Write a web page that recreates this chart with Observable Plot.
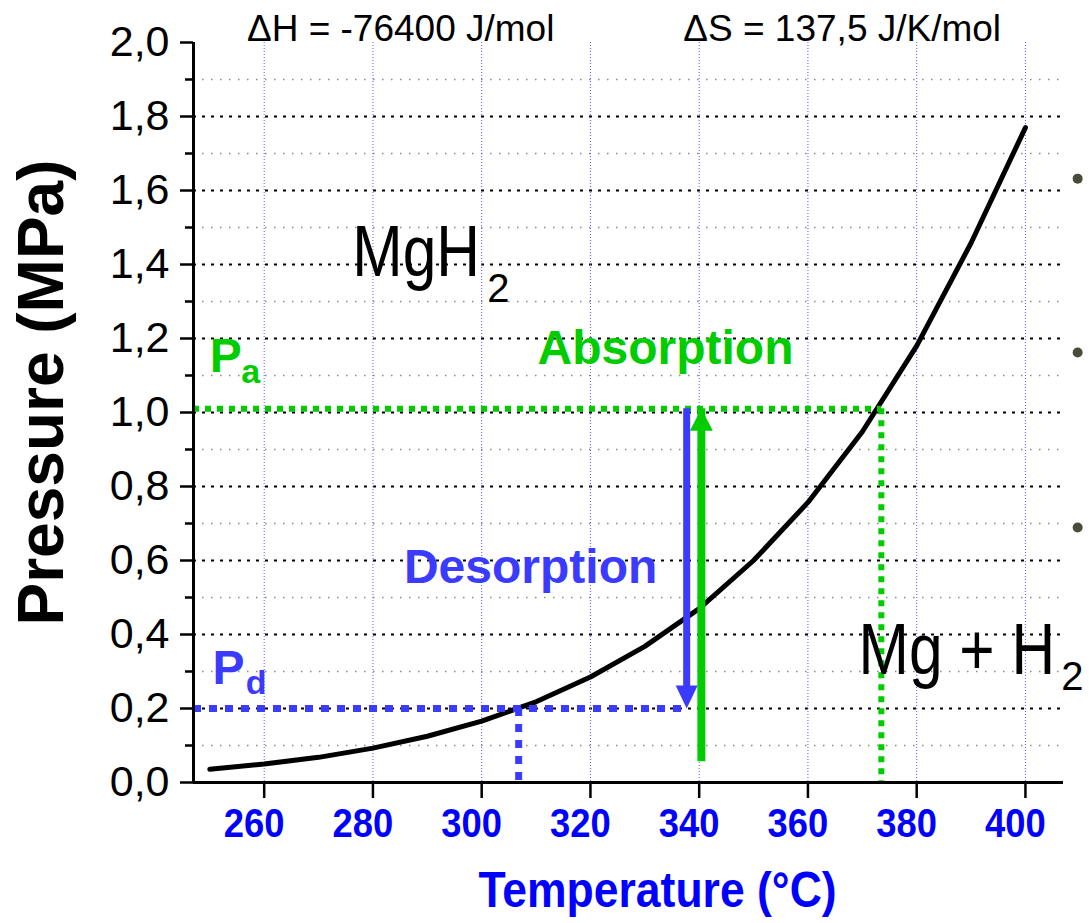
<!DOCTYPE html>
<html>
<head>
<meta charset="utf-8">
<script src="https://cdn.jsdelivr.net/npm/d3@7"></script>
<script src="https://cdn.jsdelivr.net/npm/@observablehq/plot@0.6"></script>
<style>
  html, body { margin: 0; padding: 0; background: #fff; }
</style>
</head>
<body>
<div id="chart"></div>
<script>
// ---- data ----
const temperature = [250, 260, 270, 280, 290, 300, 310, 320, 330, 340, 350, 360, 370, 380, 390, 400];
const pressure    = [0.036, 0.050, 0.068, 0.093, 0.125, 0.166, 0.218, 0.285, 0.368, 0.470, 0.600, 0.757, 0.948, 1.180, 1.458, 1.77];

const xTicks = [260, 280, 300, 320, 340, 360, 380, 400];
const xTickLabels = ["260", "280", "300", "320", "340", "360", "380", "400"];
const yTicks = [0, 0.2, 0.4, 0.6, 0.8, 1.0, 1.2, 1.4, 1.6, 1.8, 2.0];
const yTickLabels = ["0,0", "0,2", "0,4", "0,6", "0,8", "1,0", "1,2", "1,4", "1,6", "1,8", "2,0"];
const yMinorTicks = [0.1, 0.3, 0.5, 0.7, 0.9, 1.1, 1.3, 1.5, 1.7, 1.9];

// plateau: desorption, absorption
const plateauName        = ["Desorption", "Absorption"];
const plateauSymbol      = ["P", "P"];
const plateauSubscript   = ["d", "a"];
const plateauPressure    = [0.2, 1.01];
const plateauTemperature = [306.8, 373.5];
const arrowTemperature   = [337.7, 340.4];
const arrowFrom          = [1.01, 0.11];
const arrowTo            = [0.2, 1.01];
// annotation anchors (data units)
const nameT = [309.0, 333.8],  nameP = [0.538, 1.132];
const symT  = [250.5, 250.0],  symP  = [0.267, 1.109];
const subT  = [256.6, 255.8],  subP  = [0.240, 1.080];

const phaseLabels = ["MgH", "Mg + H"];
const phaseT = [276.2, 369.3], phaseP = [1.370, 0.294];
const phaseSub = ["2", "2"];
const phaseSubT = [301.0, 406.6], phaseSubP = [1.298, 0.249];

const thermoLabels = ["\u0394H = -76400 J/mol", "\u0394S = 137,5 J/K/mol"];
const thermoT = [285.1, 366.3], thermoP = [2.003, 2.003];

const bulletT = [409.6, 409.6, 409.6];
const bulletP = [1.632, 1.162, 0.689];

const xDomain = [247, 407];
const yDomain = [0, 2];

// ---- tables ----
const curve = temperature.map((T, i) => ({T, P: pressure[i]}));
const plateaus = plateauName.map((name, i) => ({
  name, sym: plateauSymbol[i], sub: plateauSubscript[i],
  P: plateauPressure[i], T: plateauTemperature[i], aT: arrowTemperature[i],
  from: arrowFrom[i], to: arrowTo[i],
  nT: nameT[i], nP: nameP[i], sT: symT[i], sP: symP[i], bT: subT[i], bP: subP[i]
}));
const phases = phaseLabels.map((t, i) => ({t, T: phaseT[i], P: phaseP[i], s: phaseSub[i], sT: phaseSubT[i], sP: phaseSubP[i]}));
const thermo = thermoLabels.map((t, i) => ({t, T: thermoT[i], P: thermoP[i]}));
const bullets = bulletP.map((P, i) => ({T: bulletT[i], P}));

// ---- styles ----
const BLUE = "#3b3bff", GREEN = "#00cc00", TICKBLUE = "#0000ff";
const NARROW = "'Liberation Sans Narrow', 'Liberation Sans', Arial, sans-serif";
const REG = "'Liberation Sans', Arial, sans-serif";
// horizontal condensation per font size when the narrow face is not installed
const condense = {40: 0.91, 50: 0.89, 72: 0.84};

const headDown = {draw(ctx) { ctx.moveTo(0, 0); ctx.lineTo(-11, -23); ctx.lineTo(11, -23); ctx.closePath(); }};
const headUp   = {draw(ctx) { ctx.moveTo(0, 0); ctx.lineTo(-11.5, 22); ctx.lineTo(11.5, 22); ctx.closePath(); }};

const des = [plateaus[0]], abs = [plateaus[1]];

const chart = Plot.plot({
  width: 1089, height: 923,
  marginLeft: 193, marginRight: 26, marginTop: 42, marginBottom: 141,
  x: {domain: xDomain, label: null},
  y: {domain: yDomain, label: null},
  color: {domain: plateauName, range: [BLUE, GREEN]},
  style: {fontFamily: REG, background: "white", color: "black", overflow: "visible"},
  marks: [
    // grid
    Plot.gridY(yMinorTicks, {stroke: "#8a8a8a", strokeOpacity: 1, strokeWidth: 1.5, strokeDasharray: "1.5,7.5"}),
    Plot.gridY(yTicks.filter(d => d > 0 && d < 2), {stroke: "#000", strokeOpacity: 1, strokeWidth: 2, strokeDasharray: "3,6"}),
    Plot.gridX(xTicks, {stroke: "#5a5aff", strokeOpacity: 1, strokeWidth: 1, strokeDasharray: "1,2"}),

    // curve
    Plot.line(curve, {x: "T", y: "P", stroke: "black", strokeWidth: 5, strokeLinejoin: "round", strokeLinecap: "round"}),

    // dotted plateau guides
    Plot.ruleY(des, {y: "P", x1: xDomain[0], x2: "aT", stroke: BLUE, strokeWidth: 7, strokeDasharray: "8,8"}),
    Plot.ruleX(des, {x: "T", y1: "P", y2: 0, stroke: BLUE, strokeWidth: 7, strokeDasharray: "8,8"}),
    Plot.ruleY(abs, {y: "P", x1: xDomain[0], x2: "T", stroke: GREEN, strokeWidth: 6, strokeDasharray: "6,6"}),
    Plot.ruleX(abs, {x: "T", y1: "P", y2: 0, stroke: GREEN, strokeWidth: 6, strokeDasharray: "6,6"}),

    // arrows
    Plot.ruleX(des, {x: "aT", y1: "from", y2: "to", stroke: BLUE, strokeWidth: 7, insetBottom: 20}),
    Plot.dot(des, {x: "aT", y: "to", symbol: headDown, fill: BLUE, stroke: "none"}),
    Plot.ruleX(abs, {x: "aT", y1: "from", y2: "to", stroke: GREEN, strokeWidth: 8, insetTop: 20}),
    Plot.dot(abs, {x: "aT", y: "to", symbol: headUp, fill: GREEN, stroke: "none"}),

    // axes lines
    Plot.ruleY([yDomain[0]], {stroke: "black", strokeWidth: 3}),
    Plot.ruleX([xDomain[0]], {stroke: "black", strokeWidth: 3}),

    // y axis
    Plot.axisY({ticks: yTicks, tickFormat: d => yTickLabels[yTicks.indexOf(d)], tickSize: 13, tickPadding: 11,
      fontSize: 43, fill: "black", stroke: "black", strokeWidth: 2.5, label: null}),
    Plot.axisY({ticks: yMinorTicks, tickFormat: () => "", tickSize: 8, stroke: "black", strokeWidth: 2.5, label: null}),
    // x axis: tick marks, then labels (set slightly left of their ticks, as in the reference)
    Plot.axisX({ticks: xTicks, tickFormat: () => "", tickSize: 16, stroke: "black", strokeWidth: 2.5, label: null}),
    Plot.axisX({ticks: xTicks, tickFormat: d => xTickLabels[xTicks.indexOf(d)], tickSize: 0, tickPadding: 26, dx: -10,
      fontSize: 40, fontWeight: "bold", fontFamily: NARROW, fill: TICKBLUE, label: null}),

    // axis titles
    Plot.text(["Pressure (MPa)"], {text: d => d, frameAnchor: "left", textAnchor: "middle", lineAnchor: "middle", rotate: -90, dx: -151, dy: -20,
      fontSize: 64, fontWeight: "bold", fill: "black"}),
    Plot.text(["Temperature (\u00b0C)"], {text: d => d, frameAnchor: "bottom", textAnchor: "middle", lineAnchor: "bottom", dx: 29, dy: 124,
      fontSize: 50, fontWeight: "bold", fontFamily: NARROW, fill: TICKBLUE}),

    // thermodynamic parameters
    Plot.text(thermo, {x: "T", y: "P", text: "t", lineAnchor: "bottom", fontSize: 37, fill: "black"}),

    // phase labels
    Plot.text(phases, {x: "T", y: "P", text: "t", textAnchor: "start", lineAnchor: "bottom", fontSize: 72, fontFamily: NARROW, fill: "black"}),
    Plot.text(phases, {x: "sT", y: "sP", text: "s", textAnchor: "start", lineAnchor: "bottom", fontSize: 40, fill: "black"}),

    // plateau labels
    Plot.text(plateaus, {x: "nT", y: "nP", text: "name", lineAnchor: "bottom", fontSize: 48, fontWeight: "bold", fill: "name"}),
    Plot.text(plateaus, {x: "sT", y: "sP", text: "sym", textAnchor: "start", lineAnchor: "bottom", fontSize: 48, fontWeight: "bold", fill: "name"}),
    Plot.text(plateaus, {x: "bT", y: "bP", text: "sub", textAnchor: "start", lineAnchor: "bottom", fontSize: 34, fontWeight: "bold", fill: "name"}),

    // slide bullets
    Plot.dot(bullets, {x: "T", y: "P", r: 5, fill: "#4b4b3c", stroke: "none"})
  ]
});

document.getElementById("chart").appendChild(chart);

// Narrow face substitute: if Liberation Sans Narrow is missing, condense the regular face
(function () {
  const ctx = document.createElement("canvas").getContext("2d");
  const probe = "MgH 0123 Temperature";
  ctx.font = "40px monospace";
  const a = ctx.measureText(probe).width;
  ctx.font = "40px 'Liberation Sans Narrow', monospace";
  const b = ctx.measureText(probe).width;
  if (a !== b) return;
  chart.querySelectorAll('[font-family*="Narrow"]').forEach(g => {
    const k = condense[+g.getAttribute("font-size")] || 0.85;
    g.querySelectorAll("text").forEach(t => {
      const w = t.getComputedTextLength();
      if (w > 0) {
        t.setAttribute("textLength", (w * k).toFixed(1));
        t.setAttribute("lengthAdjust", "spacingAndGlyphs");
      }
    });
  });
})();
</script>
</body>
</html>
